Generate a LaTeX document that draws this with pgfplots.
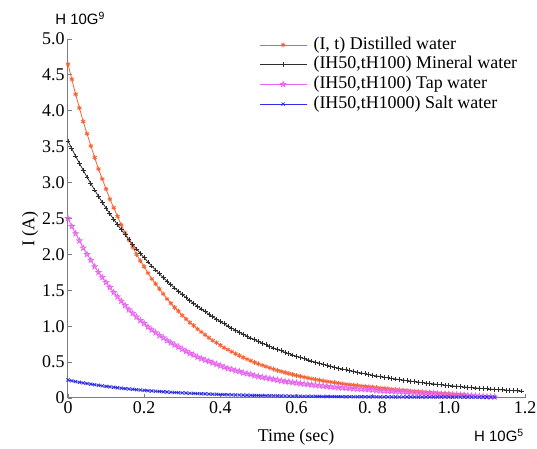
\documentclass[border=0pt]{standalone}
\usepackage{fontspec}
\setmainfont{Liberation Serif}
\newfontfamily\arialfont{Liberation Sans}
\newfontfamily\timesfont{Liberation Serif}
\usepackage{pgfplots}
\usepackage{pgfplotstable}
\pgfplotsset{compat=1.18}
\usetikzlibrary{plotmarks}
\definecolor{cOr}{RGB}{248,98,50}
\definecolor{cBk}{RGB}{45,45,45}
\definecolor{cPk}{RGB}{232,100,240}
\definecolor{cBl}{RGB}{45,45,235}
\definecolor{cAx}{RGB}{125,125,125}
\pgfdeclareplotmark{pentagram}{%
  \pgfpathmoveto{\pgfpointpolar{90}{\pgfplotmarksize}}%
  \pgfpathlineto{\pgfpointpolar{126}{0.42\pgfplotmarksize}}%
  \pgfpathlineto{\pgfpointpolar{162}{\pgfplotmarksize}}%
  \pgfpathlineto{\pgfpointpolar{198}{0.42\pgfplotmarksize}}%
  \pgfpathlineto{\pgfpointpolar{234}{\pgfplotmarksize}}%
  \pgfpathlineto{\pgfpointpolar{270}{0.42\pgfplotmarksize}}%
  \pgfpathlineto{\pgfpointpolar{306}{\pgfplotmarksize}}%
  \pgfpathlineto{\pgfpointpolar{342}{0.42\pgfplotmarksize}}%
  \pgfpathlineto{\pgfpointpolar{18}{\pgfplotmarksize}}%
  \pgfpathlineto{\pgfpointpolar{54}{0.42\pgfplotmarksize}}%
  \pgfpathclose
  \pgfusepathqstroke
}
\pgfplotstableread[row sep=\\]{
t v\\
0.00 4.65\\ 0.01 4.44\\ 0.02 4.23\\ 0.03 4.04\\ 0.04 3.85\\ 0.05 3.68\\ 0.06 3.51\\ 0.07 3.35\\ 0.08 3.19\\ 0.09 3.05\\
0.10 2.91\\ 0.11 2.77\\ 0.12 2.65\\ 0.13 2.53\\ 0.14 2.41\\ 0.15 2.30\\ 0.16 2.20\\ 0.17 2.10\\ 0.18 2.00\\ 0.19 1.91\\
0.20 1.83\\ 0.21 1.74\\ 0.22 1.66\\ 0.23 1.59\\ 0.24 1.52\\ 0.25 1.45\\ 0.26 1.38\\ 0.27 1.32\\ 0.28 1.26\\ 0.29 1.21\\
0.30 1.15\\ 0.31 1.10\\ 0.32 1.05\\ 0.33 1.01\\ 0.34 0.96\\ 0.35 0.92\\ 0.36 0.88\\ 0.37 0.84\\ 0.38 0.80\\ 0.39 0.77\\
0.40 0.735\\ 0.41 0.70\\ 0.42 0.673\\ 0.43 0.644\\ 0.44 0.616\\ 0.45 0.59\\ 0.46 0.565\\ 0.47 0.541\\ 0.48 0.518\\ 0.49 0.496\\
0.50 0.475\\ 0.51 0.456\\ 0.52 0.437\\ 0.53 0.419\\ 0.54 0.402\\ 0.55 0.385\\ 0.56 0.37\\ 0.57 0.355\\ 0.58 0.34\\ 0.59 0.327\\
0.60 0.314\\ 0.61 0.302\\ 0.62 0.29\\ 0.63 0.279\\ 0.64 0.268\\ 0.65 0.258\\ 0.66 0.249\\ 0.67 0.239\\ 0.68 0.23\\ 0.69 0.222\\
0.70 0.214\\ 0.71 0.206\\ 0.72 0.199\\ 0.73 0.192\\ 0.74 0.185\\ 0.75 0.179\\ 0.76 0.173\\ 0.77 0.168\\ 0.78 0.162\\ 0.79 0.157\\
0.80 0.152\\ 0.81 0.146\\ 0.82 0.14\\ 0.83 0.134\\ 0.84 0.128\\ 0.85 0.123\\ 0.86 0.118\\ 0.87 0.113\\ 0.88 0.108\\ 0.89 0.103\\
0.90 0.098\\ 0.91 0.094\\ 0.92 0.09\\ 0.93 0.086\\ 0.94 0.081\\ 0.95 0.078\\ 0.96 0.074\\ 0.97 0.07\\ 0.98 0.066\\ 0.99 0.063\\
1.00 0.059\\ 1.01 0.056\\ 1.02 0.052\\ 1.03 0.05\\ 1.04 0.046\\
}\distilled
\pgfplotstableread[row sep=\\]{
t v\\
0.00 3.580\\ 0.01 3.473\\ 0.02 3.369\\ 0.03 3.269\\ 0.04 3.171\\ 0.05 3.077\\ 0.06 2.985\\ 0.07 2.896\\ 0.08 2.809\\ 0.09 2.725\\
0.10 2.644\\ 0.11 2.565\\ 0.12 2.489\\ 0.13 2.414\\ 0.14 2.342\\ 0.15 2.272\\ 0.16 2.205\\ 0.17 2.139\\ 0.18 2.075\\ 0.19 2.013\\
0.20 1.953\\ 0.21 1.895\\ 0.22 1.838\\ 0.23 1.783\\ 0.24 1.730\\ 0.25 1.678\\ 0.26 1.628\\ 0.27 1.580\\ 0.28 1.532\\ 0.29 1.487\\
0.30 1.442\\ 0.31 1.399\\ 0.32 1.357\\ 0.33 1.317\\ 0.34 1.278\\ 0.35 1.239\\ 0.36 1.203\\ 0.37 1.167\\ 0.38 1.132\\ 0.39 1.098\\
0.40 1.065\\ 0.41 1.033\\ 0.42 1.002\\ 0.43 0.973\\ 0.44 0.944\\ 0.45 0.916\\ 0.46 0.888\\ 0.47 0.862\\ 0.48 0.836\\ 0.49 0.811\\
0.50 0.787\\ 0.51 0.763\\ 0.52 0.741\\ 0.53 0.718\\ 0.54 0.697\\ 0.55 0.676\\ 0.56 0.656\\ 0.57 0.636\\ 0.58 0.617\\ 0.59 0.599\\
0.60 0.581\\ 0.61 0.564\\ 0.62 0.547\\ 0.63 0.530\\ 0.64 0.515\\ 0.65 0.499\\ 0.66 0.485\\ 0.67 0.470\\ 0.68 0.456\\ 0.69 0.442\\
0.70 0.429\\ 0.71 0.416\\ 0.72 0.404\\ 0.73 0.392\\ 0.74 0.380\\ 0.75 0.369\\ 0.76 0.358\\ 0.77 0.347\\ 0.78 0.337\\ 0.79 0.327\\
0.80 0.317\\ 0.81 0.307\\ 0.82 0.298\\ 0.83 0.289\\ 0.84 0.281\\ 0.85 0.272\\ 0.86 0.264\\ 0.87 0.256\\ 0.88 0.249\\ 0.89 0.241\\
0.90 0.234\\ 0.91 0.227\\ 0.92 0.220\\ 0.93 0.214\\ 0.94 0.207\\ 0.95 0.201\\ 0.96 0.195\\ 0.97 0.190\\ 0.98 0.184\\ 0.99 0.178\\
1.00 0.173\\ 1.01 0.168\\ 1.02 0.163\\ 1.03 0.158\\ 1.04 0.153\\ 1.05 0.149\\ 1.06 0.144\\ 1.07 0.140\\ 1.08 0.136\\ 1.09 0.132\\
1.10 0.128\\ 1.11 0.124\\ 1.12 0.120\\ 1.13 0.117\\ 1.14 0.113\\ 1.15 0.110\\ 1.16 0.107\\ 1.17 0.103\\ 1.18 0.100\\ 1.19 0.098\\
}\mineral
\pgfplotstableread[row sep=\\]{
t v\\
0.00 2.50\\ 0.01 2.39\\ 0.02 2.29\\ 0.03 2.19\\ 0.04 2.09\\ 0.05 2.00\\ 0.06 1.92\\ 0.07 1.83\\ 0.08 1.75\\ 0.09 1.68\\
0.10 1.61\\ 0.11 1.54\\ 0.12 1.47\\ 0.13 1.41\\ 0.14 1.35\\ 0.15 1.29\\ 0.16 1.23\\ 0.17 1.18\\ 0.18 1.13\\ 0.19 1.08\\
0.20 1.04\\ 0.21 0.99\\ 0.22 0.95\\ 0.23 0.91\\ 0.24 0.87\\ 0.25 0.84\\ 0.26 0.80\\ 0.27 0.77\\ 0.28 0.74\\ 0.29 0.71\\
0.30 0.68\\ 0.31 0.65\\ 0.32 0.62\\ 0.33 0.60\\ 0.34 0.57\\ 0.35 0.55\\ 0.36 0.53\\ 0.37 0.51\\ 0.38 0.49\\ 0.39 0.47\\
0.40 0.45\\ 0.41 0.43\\ 0.42 0.41\\ 0.43 0.40\\ 0.44 0.38\\ 0.45 0.37\\ 0.46 0.35\\ 0.47 0.34\\ 0.48 0.33\\ 0.49 0.31\\
0.50 0.30\\ 0.51 0.29\\ 0.52 0.28\\ 0.53 0.27\\ 0.54 0.26\\ 0.55 0.25\\ 0.56 0.24\\ 0.57 0.23\\ 0.58 0.225\\ 0.59 0.218\\
0.60 0.210\\ 0.61 0.203\\ 0.62 0.196\\ 0.63 0.190\\ 0.64 0.184\\ 0.65 0.178\\ 0.66 0.172\\ 0.67 0.167\\ 0.68 0.161\\ 0.69 0.156\\
0.70 0.152\\ 0.71 0.147\\ 0.72 0.143\\ 0.73 0.139\\ 0.74 0.135\\ 0.75 0.131\\ 0.76 0.127\\ 0.77 0.124\\ 0.78 0.121\\ 0.79 0.118\\
0.80 0.115\\ 0.81 0.107\\ 0.82 0.104\\ 0.83 0.101\\ 0.84 0.098\\ 0.85 0.095\\ 0.86 0.092\\ 0.87 0.089\\ 0.88 0.086\\ 0.89 0.083\\
0.90 0.080\\ 0.91 0.077\\ 0.92 0.074\\ 0.93 0.071\\ 0.94 0.068\\ 0.95 0.065\\ 0.96 0.062\\ 0.97 0.059\\ 0.98 0.056\\ 0.99 0.053\\
1.00 0.050\\ 1.01 0.047\\ 1.02 0.044\\ 1.03 0.041\\ 1.04 0.038\\ 1.05 0.035\\ 1.06 0.032\\ 1.07 0.029\\ 1.08 0.026\\ 1.09 0.023\\
1.10 0.020\\ 1.11 0.018\\ 1.12 0.016\\
}\tap
\pgfplotstableread[row sep=\\]{
t v\\
0.00 0.250\\ 0.01 0.239\\ 0.02 0.229\\ 0.03 0.219\\ 0.04 0.210\\ 0.05 0.201\\ 0.06 0.193\\ 0.07 0.185\\ 0.08 0.177\\ 0.09 0.169\\
0.10 0.162\\ 0.11 0.156\\ 0.12 0.149\\ 0.13 0.143\\ 0.14 0.137\\ 0.15 0.131\\ 0.16 0.126\\ 0.17 0.121\\ 0.18 0.116\\ 0.19 0.111\\
0.20 0.107\\ 0.21 0.102\\ 0.22 0.098\\ 0.23 0.094\\ 0.24 0.091\\ 0.25 0.087\\ 0.26 0.084\\ 0.27 0.080\\ 0.28 0.077\\ 0.29 0.074\\
0.30 0.071\\ 0.31 0.069\\ 0.32 0.066\\ 0.33 0.064\\ 0.34 0.061\\ 0.35 0.059\\ 0.36 0.057\\ 0.37 0.055\\ 0.38 0.053\\ 0.39 0.051\\
0.40 0.049\\ 0.41 0.047\\ 0.42 0.046\\ 0.43 0.044\\ 0.44 0.042\\ 0.45 0.041\\ 0.46 0.040\\ 0.47 0.038\\ 0.48 0.037\\ 0.49 0.036\\
0.50 0.035\\ 0.51 0.034\\ 0.52 0.033\\ 0.53 0.032\\ 0.54 0.031\\ 0.55 0.030\\ 0.56 0.029\\ 0.57 0.028\\ 0.58 0.027\\ 0.59 0.026\\
0.60 0.026\\ 0.61 0.025\\ 0.62 0.024\\ 0.63 0.024\\ 0.64 0.023\\ 0.65 0.023\\ 0.66 0.022\\ 0.67 0.021\\ 0.68 0.021\\ 0.69 0.020\\
0.70 0.020\\ 0.71 0.019\\ 0.72 0.019\\ 0.73 0.018\\ 0.74 0.018\\ 0.75 0.018\\ 0.76 0.017\\ 0.77 0.017\\ 0.78 0.017\\ 0.79 0.016\\
0.80 0.016\\ 0.81 0.016\\ 0.82 0.015\\ 0.83 0.015\\ 0.84 0.015\\ 0.85 0.015\\ 0.86 0.014\\ 0.87 0.014\\ 0.88 0.014\\ 0.89 0.014\\
0.90 0.014\\ 0.91 0.013\\ 0.92 0.013\\ 0.93 0.013\\ 0.94 0.013\\ 0.95 0.013\\ 0.96 0.013\\ 0.97 0.013\\ 0.98 0.013\\ 0.99 0.013\\
1.00 0.013\\ 1.01 0.012\\ 1.02 0.012\\ 1.03 0.012\\ 1.04 0.012\\ 1.05 0.012\\ 1.06 0.012\\ 1.07 0.012\\ 1.08 0.012\\ 1.09 0.012\\
1.10 0.012\\ 1.11 0.012\\ 1.12 0.012\\
}\salt
\begin{document}
\begin{tikzpicture}[x=1bp,y=1bp]
\path[use as bounding box] (-68,-51) rectangle (469,398);
\begin{axis}[
  at={(0,0)}, anchor=south west,
  scale only axis, width=457bp, height=359bp,
  xmin=0, xmax=1.2, ymin=0, ymax=5,
  axis x line*=bottom, axis y line*=left,
  axis line style={cAx, line width=1bp},
  tick align=inside, major tick length=4bp,
  tick style={cAx, line width=0.9bp},
  xtick={0,0.2,0.4,0.6,0.8,1.0,1.2},
  xticklabels={{\timesfont 0},{\timesfont 0.2},{\timesfont 0.4},{\timesfont 0.6},{\timesfont 0. 8},{\timesfont 1.0},{\timesfont 1.2}},
  ytick={0,0.5,1,1.5,2,2.5,3,3.5,4,4.5,5},
  yticklabels={{\timesfont 0},{\timesfont 0.5},{\timesfont 1.0},{\timesfont 1.5},{\timesfont 2.0},{\timesfont 2.5},{\timesfont 3.0},{\timesfont 3.5},{\timesfont 4.0},{\timesfont 4.5},{\timesfont 5.0}},
  tick label style={font=\timesfont\fontsize{18}{20}\selectfont, black},
  xlabel={Time (sec)}, ylabel={I (A)},
  label style={font=\fontsize{18}{20}\selectfont},
  xlabel style={at={(axis description cs:0.499,-0.109)}, anchor=center},
  ylabel style={at={(axis description cs:-0.083,0.47)}, anchor=center},
  clip=false,
  legend cell align=left,
  legend style={at={(rel axis cs:0.418,1.007)}, anchor=north west, draw=none, fill=none,
    font=\fontsize{18}{20}\selectfont, inner sep=0pt,
    nodes={inner sep=0.5bp, text height=12bp, text depth=3.5bp},
    row sep=3.2bp,
    /tikz/every odd column/.append style={column sep=6bp}},
  legend image code/.code={\draw[mark repeat=2,mark phase=2] plot coordinates {(0bp,0bp) (23.5bp,0bp) (47bp,0bp)};},
  every axis plot/.append style={line width=0.8bp},
]
\addplot[cOr, mark=asterisk, mark size=2.4bp, mark options={line width=0.9bp}] table[x=t,y=v] {\distilled};
\addlegendentry{(I, t) Distilled water}
\addplot[cBk, mark=+, mark size=2.4bp, mark options={line width=0.8bp}] table[x=t,y=v] {\mineral};
\addlegendentry{(IH50,tH100) Mineral water}
\addplot[cPk, mark=pentagram, mark size=2.8bp, mark options={line width=0.8bp}] table[x=t,y=v] {\tap};
\addlegendentry{(IH50,tH100) Tap water}
\addplot[cBl, mark=x, mark size=2.2bp, mark options={line width=0.8bp}] table[x=t,y=v] {\salt};
\addlegendentry{(IH50,tH1000) Salt water}
\node[font=\arialfont\fontsize{15}{17}\selectfont, anchor=base west, inner sep=0pt] at (rel axis cs:-0.028,1.039) {H 10G\textsuperscript{9}};
\node[font=\arialfont\fontsize{15}{17}\selectfont, anchor=center] at (rel axis cs:0.943,-0.105) {H 10G\textsuperscript{5}};
\end{axis}
\end{tikzpicture}
\end{document}
